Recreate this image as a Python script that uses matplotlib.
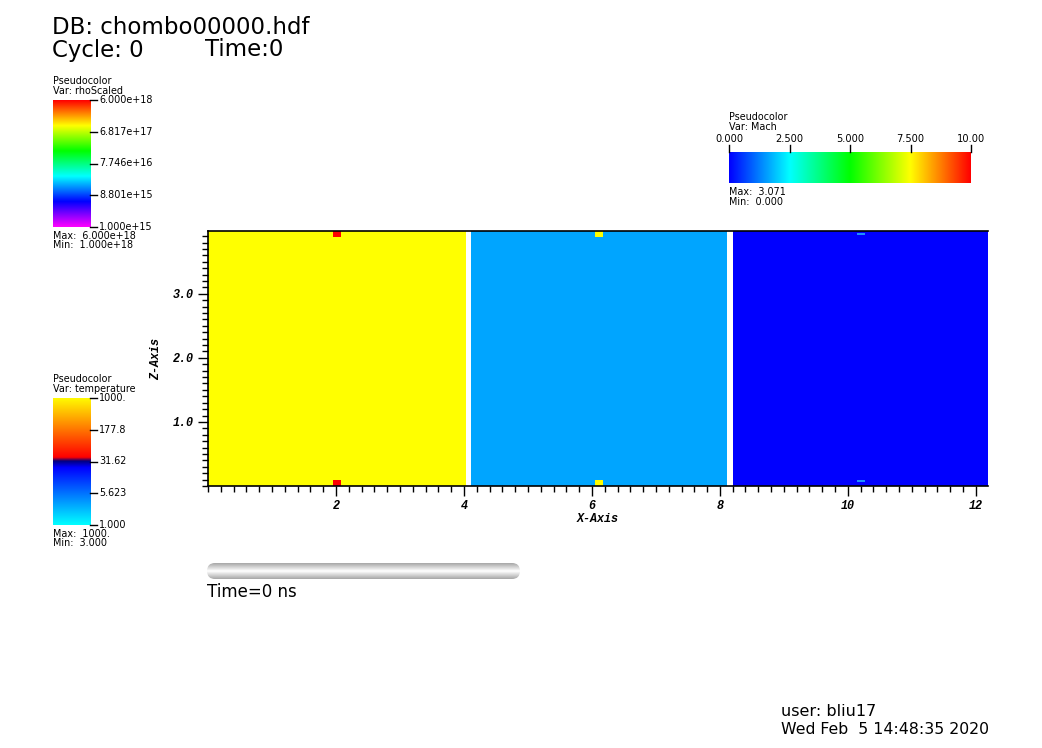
import numpy as np
import matplotlib
matplotlib.use("Agg")
import matplotlib.pyplot as plt
from matplotlib.colors import LinearSegmentedColormap
from matplotlib.patches import Rectangle, FancyBboxPatch
from matplotlib.ticker import MultipleLocator
from matplotlib.font_manager import FontProperties

W, H = 1042, 748

# ---------------- data ----------------
# main field: three blocks (x extents) with their colours
block_x0 = [0.0, 4.11, 8.20]
block_x1 = [4.03, 8.11, 12.19]
block_colors = ["#ffff00", "#00a5ff", "#0000ff"]
domain_y = [0.0, 3.98]

# small cells at the top/bottom boundaries
cell_x0 = [1.95, 1.95, 6.05, 6.05, 10.14, 10.14]
cell_x1 = [2.08, 2.08, 6.17, 6.17, 10.27, 10.27]
cell_y0 = [3.89, 0.0, 3.89, 0.0, 3.92, 0.06]
cell_y1 = [3.98, 0.09, 3.98, 0.09, 3.95, 0.09]
cell_colors = ["#ff0000", "#ff0000", "#ffff00", "#ffff00", "#1e90ff", "#1e90ff"]

x_ticks = [2, 4, 6, 8, 10, 12]
y_ticks = [1.0, 2.0, 3.0]

rho_labels = ["6.000e+18", "6.817e+17", "7.746e+16", "8.801e+15", "1.000e+15"]
rho_maxmin = ["Max:  6.000e+18", "Min:  1.000e+18"]
temp_labels = ["1000.", "177.8", "31.62", "5.623", "1.000"]
temp_maxmin = ["Max:  1000.", "Min:  3.000"]
mach_labels = ["0.000", "2.500", "5.000", "7.500", "10.00"]
mach_maxmin = ["Max:  3.071", "Min:  0.000"]

# ---------------- colormaps ----------------
rainbow = LinearSegmentedColormap.from_list(
    "rb", [(0.0, "#ff00ff"), (0.2, "#0000ff"), (0.4, "#00ffff"),
           (0.6, "#00ff00"), (0.8, "#ffff00"), (1.0, "#ff0000")])
hotcold = LinearSegmentedColormap.from_list(
    "hc", [(0.0, "#00ffff"), (0.45, "#0000ff"), (0.5, "#000080"),
           (0.53, "#ff0000"), (1.0, "#ffff00")])
hot = LinearSegmentedColormap.from_list(
    "hot", [(0.0, "#0000ff"), (0.25, "#00ffff"), (0.5, "#00ff00"),
            (0.75, "#ffff00"), (1.0, "#ff0000")])

fig = plt.figure(figsize=(W / 100, H / 100), dpi=100)
fig.patch.set_facecolor("white")


def fax(x0, y0, x1, y1):
    return fig.add_axes([x0 / W, 1 - y1 / H, (x1 - x0) / W, (y1 - y0) / H])


def ftext(x, y, s, **kw):
    fig.text(x / W, 1 - y / H, s, **kw)


sans = "DejaVu Sans"
small = 6.9

# ---------------- titles ----------------
ftext(52, 28, "DB: chombo00000.hdf", fontsize=16.5, family=sans, va="center")
ftext(52, 50, "Cycle: 0", fontsize=16.5, family=sans, va="center")
ftext(205, 50, "Time:0", fontsize=16.5, family=sans, va="center")

# ---------------- main axes ----------------
ax = fax(208, 231, 988, 486)
for x0, x1, c in zip(block_x0, block_x1, block_colors):
    ax.add_patch(Rectangle((x0, domain_y[0]), x1 - x0, domain_y[1] - domain_y[0],
                           facecolor=c, edgecolor="none", zorder=1))
for x0, x1, y0, y1, c in zip(cell_x0, cell_x1, cell_y0, cell_y1, cell_colors):
    ax.add_patch(Rectangle((x0, y0), x1 - x0, y1 - y0, facecolor=c,
                           edgecolor="none", zorder=2))
ax.set_xlim(0, 12.19)
ax.set_ylim(0, 3.98)
ax.set_xticks(x_ticks)
ax.set_xticklabels([str(v) for v in x_ticks])
ax.set_yticks(y_ticks)
ax.set_yticklabels(["%.1f" % v for v in y_ticks])
ax.xaxis.set_minor_locator(MultipleLocator(0.2))
ax.yaxis.set_minor_locator(MultipleLocator(0.1))
ax.tick_params(which="major", length=7, width=1, direction="out", pad=3,
               top=False, right=False)
ax.tick_params(which="minor", length=4, width=1, direction="out",
               top=False, right=False)
tickfont = dict(family="Liberation Mono", weight="bold", style="italic", size=8.5)
for lab in ax.get_xticklabels() + ax.get_yticklabels():
    lab.set_fontproperties(FontProperties(**tickfont))
ax.set_xlabel("X-Axis", fontproperties=FontProperties(**tickfont), labelpad=1)
ax.set_ylabel("Z-Axis", fontproperties=FontProperties(**tickfont), labelpad=8)
for s in ax.spines.values():
    s.set_linewidth(1.2)
    s.set_zorder(5)
ax.spines["right"].set_visible(False)

# ---------------- vertical legends ----------------
def vlegend(top, cmap, var, labels, maxmin):
    ftext(53, top - 19, "Pseudocolor", fontsize=small, family=sans, va="center")
    ftext(53, top - 9, var, fontsize=small, family=sans, va="center")
    cax = fax(53, top, 90, top + 127)
    grad = np.linspace(1, 0, 256).reshape(-1, 1)
    cax.imshow(grad, aspect="auto", cmap=cmap, extent=[0, 1, 0, 1])
    cax.set_xticks([])
    cax.set_yticks([])
    for s in cax.spines.values():
        s.set_visible(False)
    n = len(labels)
    for i, lab in enumerate(labels):
        y = top + i * 127 / (n - 1)
        fig.add_artist(plt.Line2D([90 / W, 97 / W], [1 - y / H, 1 - y / H],
                                  color="black", lw=1))
        ftext(99, y, lab, fontsize=small, family=sans, va="center")
    ftext(53, top + 136, maxmin[0], fontsize=small, family=sans, va="center")
    ftext(53, top + 145, maxmin[1], fontsize=small, family=sans, va="center")


vlegend(100, rainbow, "Var: rhoScaled", rho_labels, rho_maxmin)
vlegend(398, hotcold, "Var: temperature", temp_labels, temp_maxmin)

# ---------------- horizontal legend ----------------
ftext(729, 117, "Pseudocolor", fontsize=small, family=sans, va="center")
ftext(729, 127, "Var: Mach", fontsize=small, family=sans, va="center")
hax = fax(729, 152, 971, 183)
hax.imshow(np.linspace(0, 1, 256).reshape(1, -1), aspect="auto", cmap=hot,
           extent=[0, 1, 0, 1])
hax.set_xticks([])
hax.set_yticks([])
for s in hax.spines.values():
    s.set_visible(False)
n = len(mach_labels)
for i, lab in enumerate(mach_labels):
    x = 729 + i * 242 / (n - 1)
    fig.add_artist(plt.Line2D([x / W, x / W], [1 - 145 / H, 1 - 152 / H],
                              color="black", lw=1))
    ftext(x, 139, lab, fontsize=small + 0.2, family=sans, va="center", ha="center")
ftext(729, 192, mach_maxmin[0], fontsize=small, family=sans, va="center")
ftext(729, 202, mach_maxmin[1], fontsize=small, family=sans, va="center")

# ---------------- time slider ----------------
sax = fax(205, 561, 522, 581)
sax.set_xlim(0, 317)
sax.set_ylim(0, 20)
sax.axis("off")
g = np.concatenate([np.linspace(0.58, 0.98, 10), np.linspace(0.98, 0.58, 10)])
gimg = sax.imshow(g.reshape(-1, 1), aspect="auto", cmap="gray", vmin=0, vmax=1,
                  extent=[0, 317, 0, 20])
clip = FancyBboxPatch((2, 2), 313, 16, boxstyle="round,pad=0,rounding_size=8",
                      transform=sax.transData, facecolor="none", edgecolor="none")
sax.add_patch(clip)
gimg.set_clip_path(clip)

ftext(207, 592, "Time=0 ns", fontsize=12, family=sans, va="center")

# ---------------- user/date ----------------
ftext(781, 712, "user: bliu17", fontsize=11.5, family=sans, va="center")
ftext(781, 730, "Wed Feb  5 14:48:35 2020", fontsize=11.3, family=sans, va="center")

fig.savefig("out.png", dpi=100, facecolor="white")
